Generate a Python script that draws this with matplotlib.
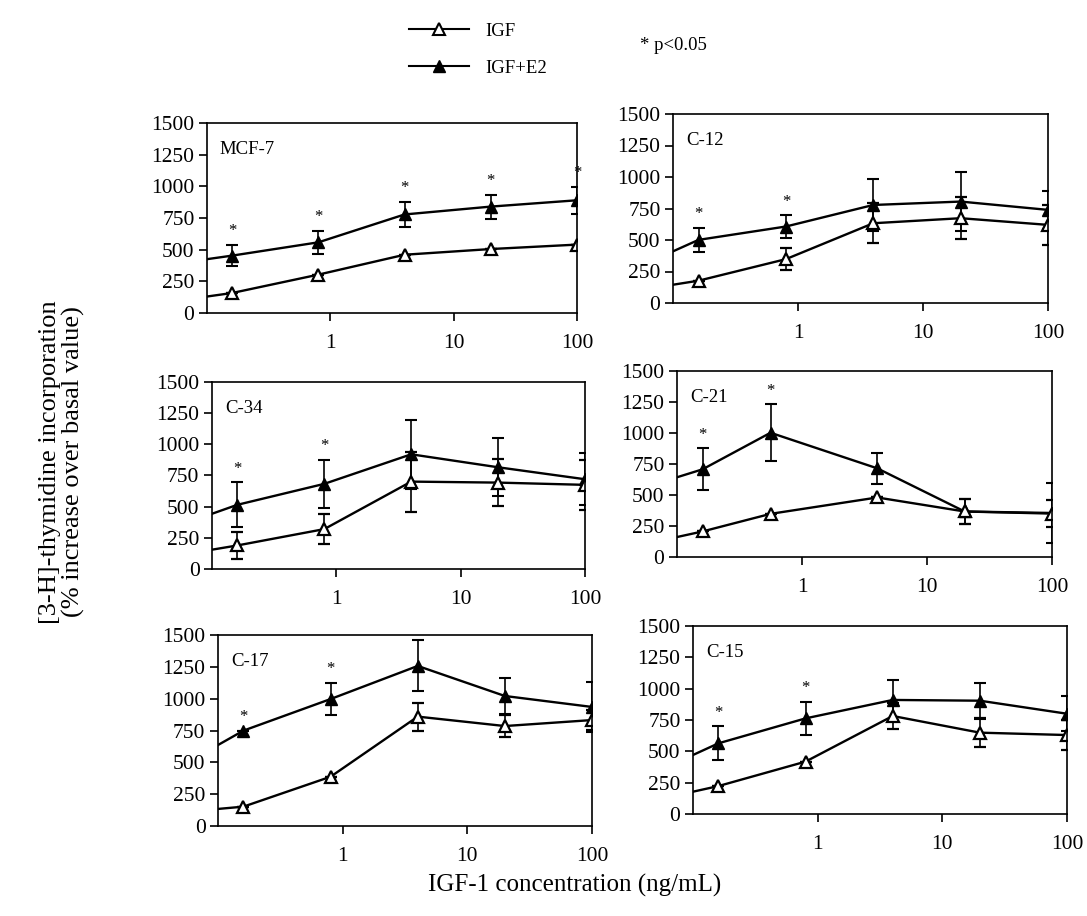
import matplotlib
matplotlib.use('Agg')
import matplotlib.pyplot as plt
from matplotlib.lines import Line2D

plt.rcParams['font.family'] = ['Liberation Serif', 'DejaVu Serif']

# IGF-1 concentrations (ng/mL); basal value drawn at the left edge (0.1)
conc = [0.16, 0.8, 4, 20, 100]
conc_c21 = [0.16, 0.56, 4, 20, 100]
x_basal = 0.1

names = ['MCF-7', 'C-12', 'C-34', 'C-21', 'C-17', 'C-15']

igf_basal = [130, 145, 155, 161, 134, 178]
e2_basal = [425, 410, 443, 643, 636, 471]

igf_mcf7 = [158, 303, 460, 505, 540]
igf_c12 = [177, 348, 633, 673, 620]
igf_c34 = [189, 320, 701, 693, 675]
igf_c21 = [206, 348, 480, 367, 350]
igf_c17 = [152, 387, 859, 785, 832]
igf_c15 = [223, 418, 782, 649, 630]

igf_err_mcf7 = [0, 0, 0, 0, 0]
igf_err_c12 = [0, 90, 158, 167, 160]
igf_err_c34 = [105, 120, 240, 190, 200]
igf_err_c21 = [0, 0, 0, 100, 110]
igf_err_c17 = [0, 0, 110, 85, 80]
igf_err_c15 = [0, 0, 100, 115, 120]

e2_mcf7 = [453, 558, 778, 840, 890]
e2_c12 = [501, 607, 778, 805, 739]
e2_c34 = [515, 683, 920, 816, 720]
e2_c21 = [707, 1002, 715, 367, 355]
e2_c17 = [749, 997, 1257, 1021, 935]
e2_c15 = [564, 763, 910, 904, 800]

e2_err_mcf7 = [85, 90, 100, 95, 105]
e2_err_c12 = [95, 88, 205, 237, 150]
e2_err_c34 = [180, 190, 275, 232, 210]
e2_err_c21 = [170, 230, 125, 100, 240]
e2_err_c17 = [0, 128, 200, 140, 195]
e2_err_c15 = [135, 130, 160, 145, 140]

# indices marked * p<0.05
sig_mcf7 = [0, 1, 2, 3, 4]
sig_c12 = [0, 1]
sig_c34 = [0, 1]
sig_c21 = [0, 1]
sig_c17 = [0, 1]
sig_c15 = [0, 1]

xs = [conc, conc, conc, conc_c21, conc, conc]
igf = [igf_mcf7, igf_c12, igf_c34, igf_c21, igf_c17, igf_c15]
igf_err = [igf_err_mcf7, igf_err_c12, igf_err_c34, igf_err_c21, igf_err_c17, igf_err_c15]
e2 = [e2_mcf7, e2_c12, e2_c34, e2_c21, e2_c17, e2_c15]
e2_err = [e2_err_mcf7, e2_err_c12, e2_err_c34, e2_err_c21, e2_err_c17, e2_err_c15]
sig = [sig_mcf7, sig_c12, sig_c34, sig_c21, sig_c17, sig_c15]

W, H = 1087, 916
fig = plt.figure(figsize=(W / 100, H / 100), dpi=100)

# axes boxes in pixels: left, top, right, bottom
boxes = [(207, 123, 577, 313), (673, 114, 1048, 303),
         (212, 382, 585, 569), (677, 371, 1052, 557),
         (218, 635, 592, 826), (693, 626, 1067, 814)]

for i, (l, t, r, b) in enumerate(boxes):
    ax = fig.add_axes([l / W, 1 - b / H, (r - l) / W, (b - t) / H])
    x = xs[i]
    ax.plot([x_basal, x[0]], [igf_basal[i], igf[i][0]], color='black', lw=1.7)
    ax.plot([x_basal, x[0]], [e2_basal[i], e2[i][0]], color='black', lw=1.7)
    ax.errorbar(x, e2[i], yerr=e2_err[i], color='black', lw=1.7, marker='^',
                ms=9, mfc='black', mec='black', capsize=4, elinewidth=1.2,
                capthick=1.5)
    ax.errorbar(x, igf[i], yerr=igf_err[i], color='black', lw=1.7, marker='^',
                ms=9, mfc='white', mec='black', mew=1.6, capsize=4,
                elinewidth=1.2, capthick=1.5)
    for k in sig[i]:
        ax.text(x[k], e2[i][k] + e2_err[i][k] + 110, '*', ha='center',
                va='center', fontsize=12)
    ax.set_xscale('log')
    ax.set_xlim(x_basal, 100)
    ax.set_ylim(0, 1500)
    ax.set_yticks([0, 250, 500, 750, 1000, 1250, 1500])
    ax.set_xticks([1, 10, 100])
    ax.set_xticklabels(['1', '10', '100'])
    ax.minorticks_off()
    ax.tick_params(axis='both', direction='out', length=6, width=1.2,
                   labelsize=15.5, pad=3)
    ax.tick_params(axis='x', pad=9)
    for s in ax.spines.values():
        s.set_linewidth(1.2)
    ax.text(0.035, 0.86, names[i], transform=ax.transAxes, fontsize=13.5,
            va='center', ha='left')

h_igf = Line2D([], [], color='black', lw=1.5, marker='^', ms=8,
               mfc='white', mec='black', mew=1.5)
h_e2 = Line2D([], [], color='black', lw=1.5, marker='^', ms=8,
              mfc='black', mec='black')
fig.legend([h_igf, h_e2], ['IGF', 'IGF+E2'], loc='upper left',
           bbox_to_anchor=(392 / W, 1 - 6 / H), frameon=False, fontsize=13.5,
           handlelength=3.2, labelspacing=1.05, handletextpad=0.9)
fig.text(640 / W, 1 - 45 / H, '* p<0.05', fontsize=13.5, va='center')

fig.text(62 / W, 1 - 462 / H,
         '[3-H]-thymidine incorporation\n(% increase over basal value)',
         rotation=90, ha='center', va='center', fontsize=19,
         multialignment='center', linespacing=1.05)
fig.text(575 / W, 1 - 885 / H, 'IGF-1 concentration (ng/mL)', ha='center',
         va='center', fontsize=18)

fig.savefig('out.png', dpi=100)
